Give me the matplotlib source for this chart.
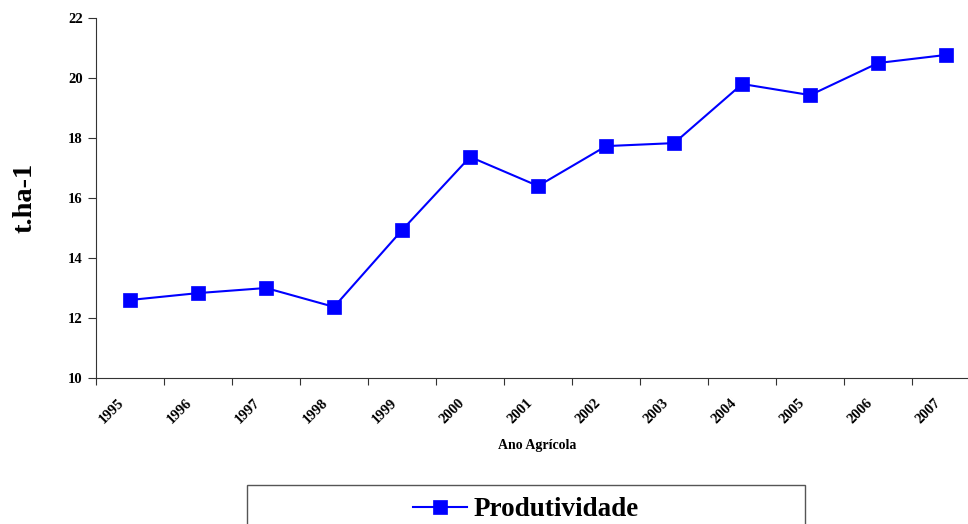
import numpy as np
import matplotlib.pyplot as plt
from matplotlib.patches import Rectangle

# Produtividade por ano agrícola (t.ha-1)
anos = ['1995', '1996', '1997', '1998', '1999', '2000', '2001',
        '2002', '2003', '2004', '2005', '2006', '2007']
produtividade = [12.6, 12.83, 13.0, 12.37, 14.93, 17.37, 16.4,
                 17.73, 17.83, 19.8, 19.43, 20.5, 20.77]

plt.rcParams['font.family'] = ['Liberation Serif', 'DejaVu Serif']
plt.rcParams['font.weight'] = 'bold'

fig = plt.figure(figsize=(9.68, 5.24), dpi=100)
ax = fig.add_axes([96 / 968, (524 - 378) / 524, (968 - 96) / 968, 360 / 524])

x = np.arange(len(anos))
ax.plot(x, produtividade, color='#0000FF', linewidth=1.5, marker='s',
        markersize=10, markeredgewidth=0.5, markerfacecolor='#0000FF',
        markeredgecolor='#0000FF', label='Produtividade')

ax.set_yticks(np.arange(10, 23, 2))
ax.set_ylim(10, 22)
# marcas entre as categorias (estilo Excel)
ax.set_xticks(np.arange(-0.5, 12.4, 1.0))
ax.set_xticklabels([])
# rótulos rotacionados, deslocados um pouco à esquerda do centro da categoria
ax.set_xticks(x - 0.18, minor=True)
ax.set_xticklabels(anos, minor=True, rotation=45, ha='right', va='top',
                   rotation_mode='anchor', fontsize=10.5, fontweight='bold')
ax.set_xlim(-0.5, 12.32)
ax.tick_params(axis='x', which='minor', length=0, pad=13)
ax.tick_params(axis='x', which='major', direction='out', length=5, color='#333333')
ax.tick_params(axis='y', direction='out', length=6, color='#333333', labelsize=10.5)
for lab in ax.get_yticklabels():
    lab.set_fontweight('bold')

ax.spines['top'].set_visible(False)
ax.spines['right'].set_visible(False)
ax.spines['left'].set_color('#333333')
ax.spines['bottom'].set_color('#333333')

ax.set_ylabel('t.ha-1', fontsize=20.5, fontweight='bold', labelpad=22)
fig.text(537 / 968, 1 - 445 / 524, 'Ano Agrícola', ha='center', va='center',
         fontsize=10, fontweight='bold')

# caixa da legenda (cortada na borda inferior, como no original)
fig.patches.append(Rectangle((247 / 968, -0.02), (805 - 247) / 968, (524 - 485) / 524 + 0.02,
                             transform=fig.transFigure, facecolor='white',
                             edgecolor='#555555', linewidth=1.0))
leg = fig.legend(loc='center', bbox_to_anchor=(526 / 968, 1 - 510 / 524),
                 frameon=False, handlelength=2.0, handletextpad=0.25,
                 markerscale=1.0, prop={'weight': 'bold', 'size': 19.5})

fig.savefig('out.png', dpi=100)
